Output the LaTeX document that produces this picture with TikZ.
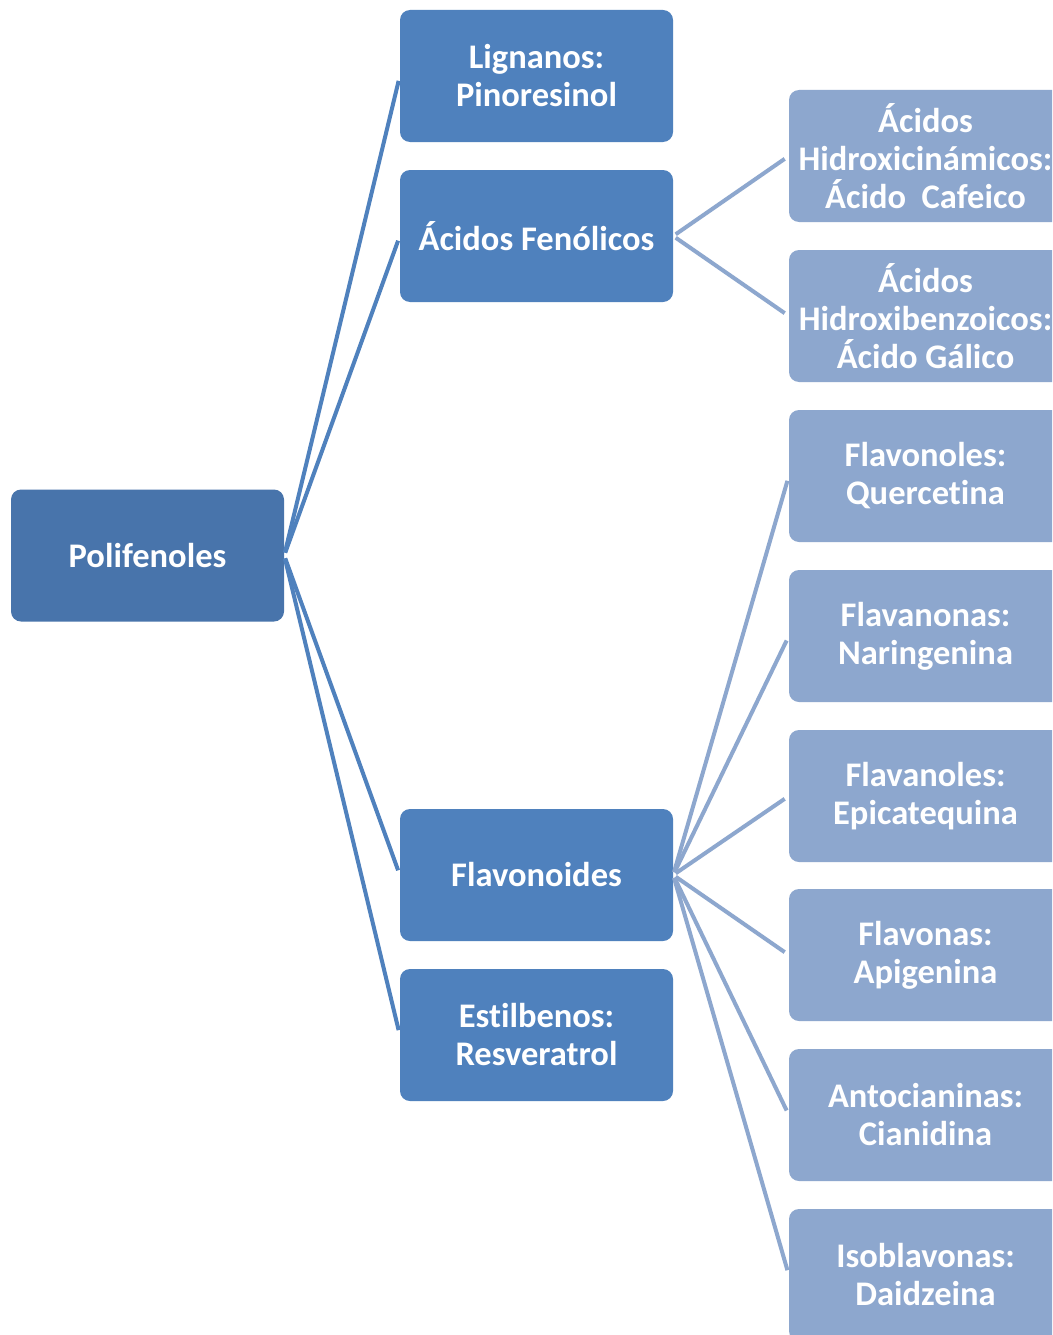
\documentclass[tikz,border=0pt]{standalone}
\usepackage{fontspec}
\setmainfont[Ligatures={NoCommon}]{Carlito}
\begin{document}
\begin{tikzpicture}[x=1pt,y=-1pt,
  box/.style={rectangle, rounded corners=10pt, minimum width=273pt, minimum height=132pt,
    inner sep=0pt, align=center, text=white, font=\bfseries\fontsize{34.5}{38}\selectfont},
  root/.style={box, fill=rootblue},
  lvlone/.style={box, fill=midblue},
  lvltwo/.style={box, fill=lightblue},
  linkone/.style={draw=midblue, line width=4pt, shorten <=3pt, shorten >=5pt},
  linktwo/.style={draw=lightblue, line width=4pt, shorten <=3pt, shorten >=5pt}]
\definecolor{rootblue}{HTML}{4874AB}
\definecolor{midblue}{HTML}{4F81BD}
\definecolor{lightblue}{HTML}{8DA7CE}
\clip (0,0) rectangle (1052,1335);
\fill[white] (0,0) rectangle (1052,1335);
\node[root] (P) at (147.5,555.5) {Polifenoles};
\node[lvlone] (L) at (536.5,76) {Lignanos:\\Pinoresinol};
\node[lvlone] (A) at (536.5,236) {Ácidos Fenólicos};
\node[lvlone] (F) at (536.5,875) {Flavonoides};
\node[lvlone] (E) at (536.5,1035) {Estilbenos:\\Resveratrol};
\node[lvltwo] (A1) at (925.5,156) {Ácidos\\Hidroxicinámicos:\\Ácido~ Cafeico};
\node[lvltwo] (A2) at (925.5,316) {Ácidos\\Hidroxibenzoicos:\\Ácido Gálico};
\node[lvltwo] (F1) at (925.5,476) {Flavonoles:\\Quercetina};
\node[lvltwo] (F2) at (925.5,636) {Flavanonas:\\Naringenina};
\node[lvltwo] (F3) at (925.5,796) {Flavanoles:\\Epicatequina};
\node[lvltwo] (F4) at (925.5,955) {Flavonas:\\Apigenina};
\node[lvltwo] (F5) at (925.5,1115) {Antocianinas:\\Cianidina};
\node[lvltwo] (F6) at (925.5,1275) {Isoblavonas:\\Daidzeina};
\foreach \c in {L,A,F,E} \draw[linkone] (P.east) -- (\c.west);
\foreach \c in {A1,A2} \draw[linktwo] (A.east) -- (\c.west);
\foreach \c in {F1,F2,F3,F4,F5,F6} \draw[linktwo] (F.east) -- (\c.west);
\end{tikzpicture}
\end{document}
